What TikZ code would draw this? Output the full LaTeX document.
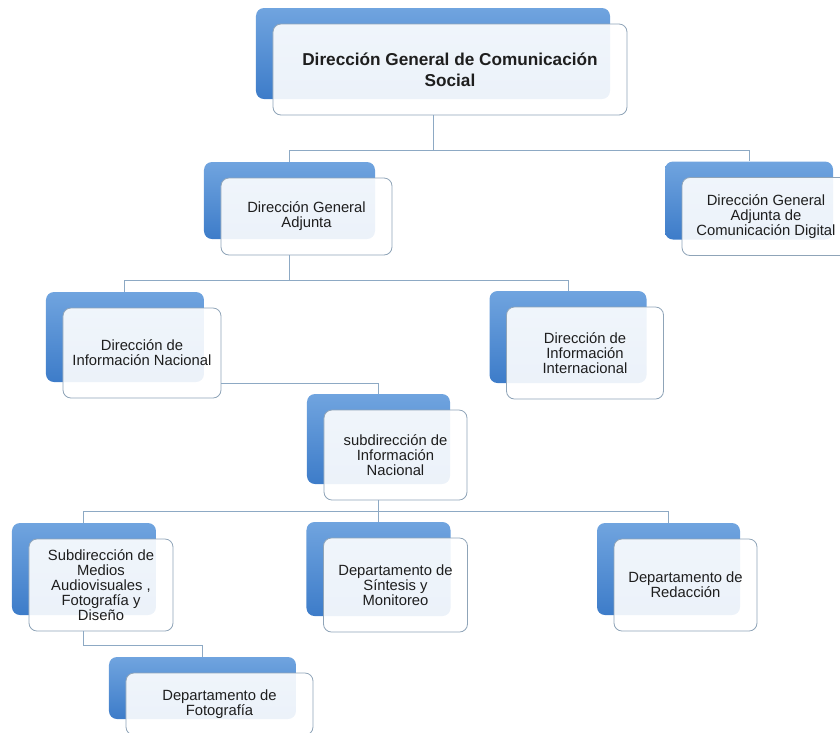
\documentclass[tikz,border=0pt]{standalone}
\usepackage{fontspec}
\setmainfont{Liberation Sans}
\usepackage{tikz}
\usetikzlibrary{shadows}
\definecolor{linkblue}{HTML}{8DA9C4}
\definecolor{shadetop}{HTML}{70A4DF}
\definecolor{shadebot}{HTML}{3D7CC9}
\definecolor{rimgray}{HTML}{8FA4B8}
\definecolor{textgray}{HTML}{1E1E1E}
\tikzset{org style/.style={
		draw=rimgray,
		line width=0.8pt,
		fill=white,
		fill opacity=0.9,
		text opacity=1,
		text=textgray,
		rectangle,
		rounded corners=8pt,
		inner sep=0pt,
		align=center,
		font=\fontsize{14.8}{15}\selectfont,
		general shadow={shadow xshift=-17pt, shadow yshift=16pt, fill opacity=1,
			draw=none, top color=shadetop, bottom color=shadebot},
	},
	root style/.style={
		org style,
		font=\fontsize{17.2}{21}\selectfont\bfseries,
	},
	link style/.style={
		draw=linkblue,
		line width=1pt,
	}
}

\begin{document}
\begin{tikzpicture}[node distance=130pt]
	\useasboundingbox (-450pt,69.5pt) rectangle (390pt,-662.5pt);
	\node[root style, minimum width=354pt, minimum height=91pt] (dgcs) at (0,0) {Dirección General de Comunicación\\Social};
	
	\node[org style, below of=dgcs, xshift=-143.5pt, yshift=-17pt, minimum width=171pt, minimum height=77pt] (dga) {Dirección General\\Adjunta};
	\node[org style, right of=dga, xshift=329.5pt, minimum width=168pt, minimum height=78pt] (dgacd) {Dirección General\\Adjunta de\\Comunicación Digital};
	
	\node[org style, below of=dga, xshift=-164.5pt, yshift=-6.5pt, minimum width=158pt, minimum height=90pt] (din) {Dirección de\\Información Nacional};
	\node[org style, right of=din, xshift=313pt, minimum width=157pt, minimum height=92pt] (dii) {Dirección de\\Información\\Internacional};
	
	\node[org style, below of=din, xshift=253.5pt, yshift=28pt, minimum width=143pt, minimum height=90pt] (sin) {subdirección de\\Información\\Nacional};
	
	\node[org style, below of=sin, xshift=-294.5pt, minimum width=144pt, minimum height=92pt] (smafd) {Subdirección de\\Medios\\Audiovisuales ,\\Fotografía y\\Diseño};
	\node[org style, below of=sin, minimum width=144pt, minimum height=94pt] (dsm) {Departamento de\\Síntesis y\\Monitoreo};
	\node[org style, right of=dsm, xshift=160pt, minimum width=143pt, minimum height=92pt] (dr) {Departamento de\\Redacción};
	
	\node[org style, below of=smafd, xshift=118.5pt, yshift=11pt, minimum width=187pt, minimum height=62pt] (dfo) {Departamento de\\Fotografía};
	
	% connectors
	\draw[link style] ([xshift=-17pt]dgcs.south) -- ++(0,-35pt) -| ([xshift=-17pt,yshift=16pt]dga.north);
	\draw[link style] ([xshift=-17pt]dgcs.south) -- ++(0,-35pt) -| ([xshift=-17pt,yshift=16pt]dgacd.north);
	\draw[link style] ([xshift=-17pt]dga.south) -- ++(0,-25pt) -| ([xshift=-17pt,yshift=16pt]din.north);
	\draw[link style] ([xshift=-17pt]dga.south) -- ++(0,-25pt) -| ([xshift=-17pt,yshift=16pt]dii.north);
	\draw[link style] ([yshift=-30pt]din.east) -| ([xshift=-17pt,yshift=16pt]sin.north);
	\draw[link style] ([xshift=-17pt]sin.south) -- ++(0,-11pt) -| ([xshift=-17pt,yshift=16pt]smafd.north);
	\draw[link style] ([xshift=-17pt]sin.south) -- ++(0,-11pt) -| ([xshift=-17pt,yshift=16pt]dsm.north);
	\draw[link style] ([xshift=-17pt]sin.south) -- ++(0,-11pt) -| ([xshift=-17pt,yshift=16pt]dr.north);
	\draw[link style] ([xshift=-17pt]smafd.south) -- ++(0,-14pt) -| ([xshift=-17pt,yshift=16pt]dfo.north);
\end{tikzpicture}
\end{document}
